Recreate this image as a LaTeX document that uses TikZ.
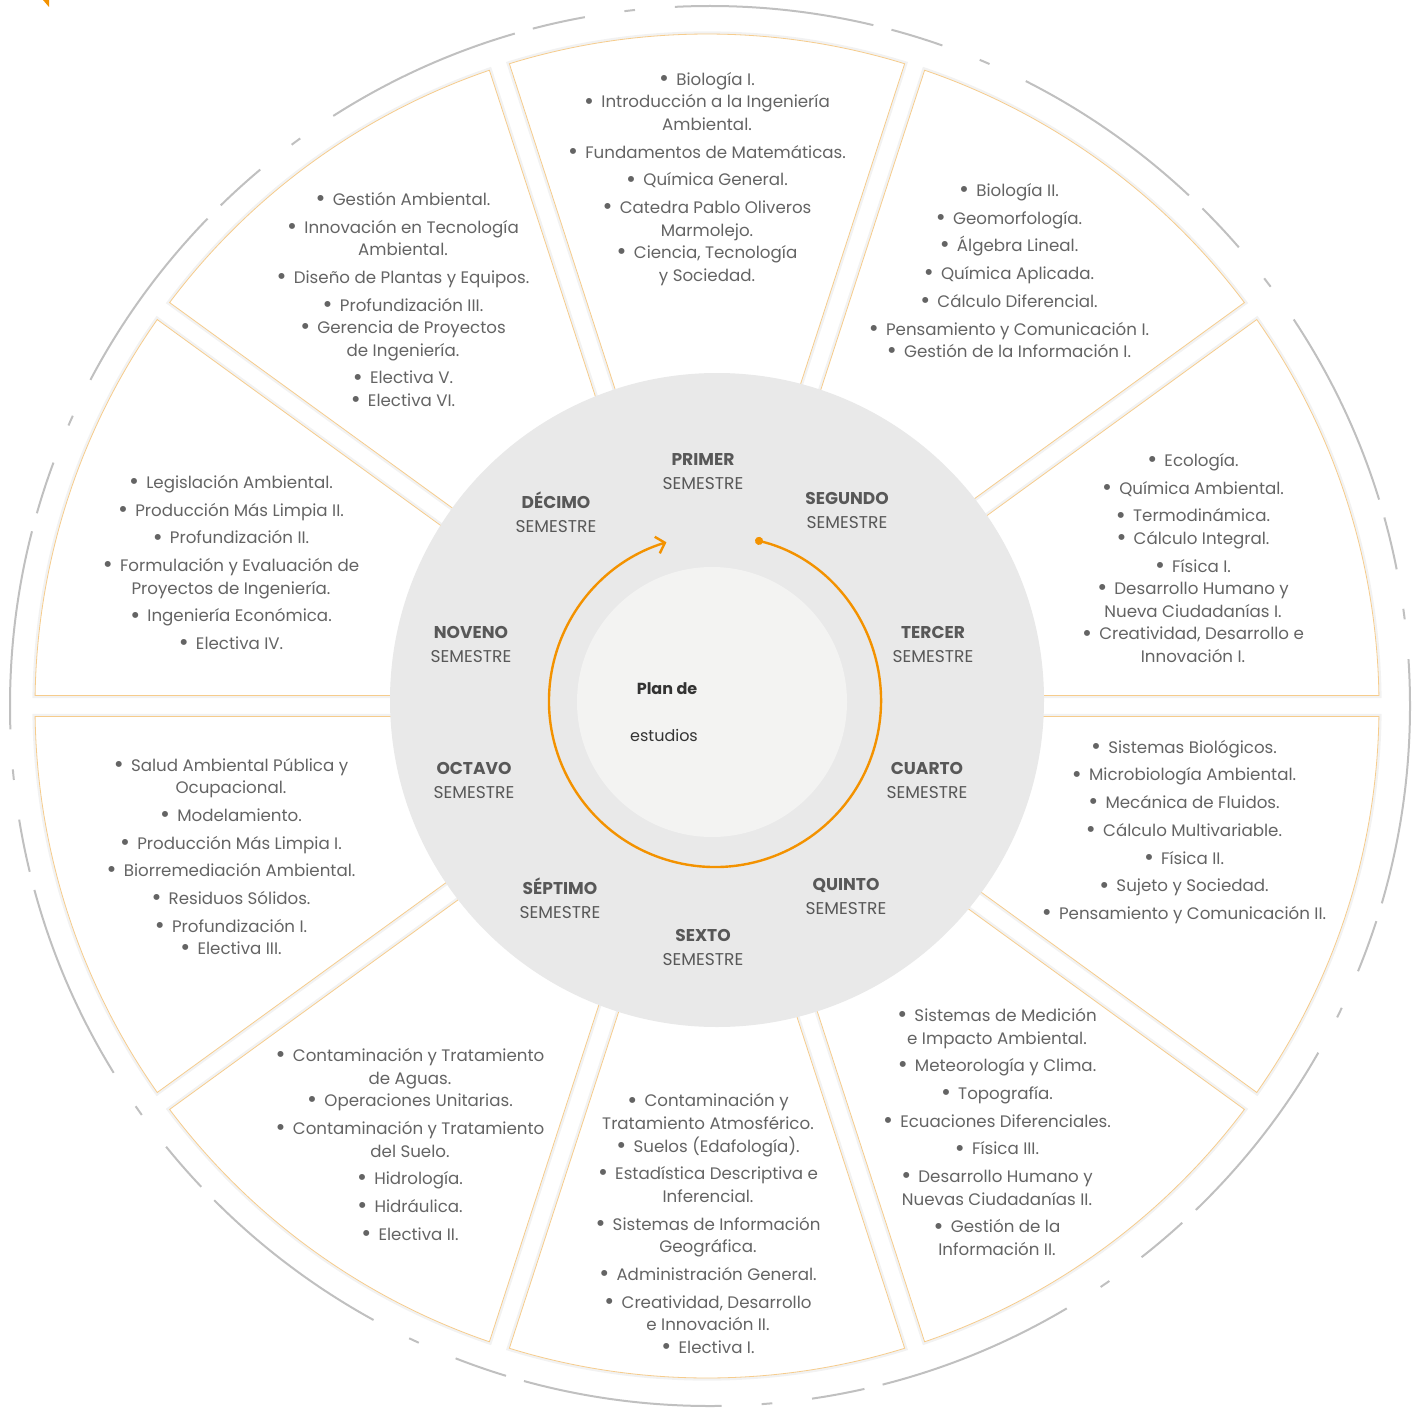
\documentclass[tikz,border=0pt]{standalone}
\usepackage{fontspec}
\setmainfont{Poppins}
\usetikzlibrary{arrows.meta}

\definecolor{discgray}{RGB}{233,233,233}
\definecolor{coregray}{RGB}{243,243,242}
\definecolor{cycleorange}{RGB}{243,146,0}
\definecolor{panelline}{RGB}{246,204,140}
\definecolor{ringgray}{RGB}{192,192,192}
\definecolor{coursegray}{RGB}{100,100,100}
\definecolor{labelgray}{RGB}{88,88,88}

\newcommand{\itm}{\raisebox{-0.07em}{\scalebox{1.45}{\textbullet}}\ \,}
\newcommand{\itemgap}{3.9pt}

\tikzset{
  panel/.style={fill=white, draw=panelline, line width=0.6pt,
    preaction={draw=black!5, line width=4pt}},
  ring/.style={draw=ringgray, line width=1.5pt,
    dash pattern=on 150pt off 14pt on 40pt off 30pt on 8pt off 30pt},
  course/.style={align=center, inner sep=0pt, text=coursegray,
    font=\fontsize{12.5}{16.9}\selectfont},
  semester/.style={align=center, inner sep=0pt, text=labelgray,
    font=\fontsize{12.8}{18}\selectfont},
  core/.style={inner sep=0pt, text=black!80, font=\fontsize{12}{14}\selectfont},
  cyclearrow/.style={draw=cycleorange, line width=1.8pt,
    {Circle[length=6pt]}-{Straight Barb[length=6pt, width=13pt]}},
}

\begin{document}
\begin{tikzpicture}[x=0.75pt, y=-0.75pt]
\useasboundingbox (0,0) rectangle (1424,1409);

% -------------------------
% Outer dashed ring
% -------------------------
\draw[ring] (710,706) circle[radius=700];
\fill[cycleorange] (43,0) -- (49,0) -- (49,7) -- cycle;

% -------------------------
% Panels, one per semester
% -------------------------
\foreach \k in {0,...,9}{
  \path[panel, shift={(707,706)}, rotate=18+36*\k]
    (145.9,-36.36) -- (-17.105:672)
    arc[start angle=-17.105, end angle=17.105, radius=672]
    -- (145.9,36.36) -- cycle;
}

% -------------------------
% Disc and centre
% -------------------------
\fill[discgray] (717,700) circle[radius=327];
\fill[coregray] (712,702) circle[radius=135];
\draw[cyclearrow, shift={(715,701)}] (-76:166)
  arc[start angle=-76, end angle=253, radius=166];

\node[core] (plan) at (667,689) {\textbf{Plan de}};
\node[core] (estudios) at (664,735) {estudios};

% -------------------------
% Semester names
% -------------------------
\node[semester] (primer)  at (703,472) {\textbf{PRIMER}\\SEMESTRE};
\node[semester] (segundo) at (847,510) {\textbf{SEGUNDO}\\SEMESTRE};
\node[semester] (tercer)  at (933,644) {\textbf{TERCER}\\SEMESTRE};
\node[semester] (cuarto)  at (927,780) {\textbf{CUARTO}\\SEMESTRE};
\node[semester] (quinto)  at (846,896) {\textbf{QUINTO}\\SEMESTRE};
\node[semester] (sexto)   at (703,947) {\textbf{SEXTO}\\SEMESTRE};
\node[semester] (septimo) at (560,898) {\textbf{SÉPTIMO}\\SEMESTRE};
\node[semester] (octavo)  at (474,780) {\textbf{OCTAVO}\\SEMESTRE};
\node[semester] (noveno)  at (471,644) {\textbf{NOVENO}\\SEMESTRE};
\node[semester] (decimo)  at (556,512) {\textbf{DÉCIMO}\\SEMESTRE};

% -------------------------
% Courses of each semester
% -------------------------
\node[course] (primerList) at (707,179) {\itm Biología I.\\
  \itm Introducción a la Ingeniería\\ Ambiental.\\[\itemgap]
  \itm Fundamentos de Matemáticas.\\[\itemgap]
  \itm Química General.\\[\itemgap]
  \itm Catedra Pablo Oliveros\\ Marmolejo.\\
  \itm Ciencia, Tecnología\\ y Sociedad.};

\node[course] (segundoList) at (1009,271) {\itm Biología II.\\[\itemgap]
  \itm Geomorfología.\\[\itemgap]
  \itm Álgebra Lineal.\\[\itemgap]
  \itm Química Aplicada.\\[\itemgap]
  \itm Cálculo Diferencial.\\[\itemgap]
  \itm Pensamiento y Comunicación I.\\
  \itm Gestión de la Información I.};

\node[course] (tercerList) at (1193,558) {\itm Ecología.\\[\itemgap]
  \itm Química Ambiental.\\[\itemgap]
  \itm Termodinámica.\\
  \itm Cálculo Integral.\\[\itemgap]
  \itm Física I.\\
  \itm Desarrollo Humano y\\ Nueva Ciudadanías I.\\
  \itm Creatividad, Desarrollo e\\ Innovación I.};

\node[course] (cuartoList) at (1184,832) {\itm Sistemas Biológicos.\\[\itemgap]
  \itm Microbiología Ambiental.\\[\itemgap]
  \itm Mecánica de Fluidos.\\[\itemgap]
  \itm Cálculo Multivariable.\\[\itemgap]
  \itm Física II.\\[\itemgap]
  \itm Sujeto y Sociedad.\\[\itemgap]
  \itm Pensamiento y Comunicación II.};

\node[course] (quintoList) at (997,1132) {\itm Sistemas de Medición\\ e Impacto Ambiental.\\[\itemgap]
  \itm Meteorología y Clima.\\[\itemgap]
  \itm Topografía.\\[\itemgap]
  \itm Ecuaciones Diferenciales.\\[\itemgap]
  \itm Física III.\\[\itemgap]
  \itm Desarrollo Humano y\\ Nuevas Ciudadanías II.\\[\itemgap]
  \itm Gestión de la\\ Información II.};

\node[course] (sextoList) at (708,1224) {\itm Contaminación y\\ Tratamiento Atmosférico.\\
  \itm Suelos (Edafología).\\[\itemgap]
  \itm Estadística Descriptiva e\\ Inferencial.\\[\itemgap]
  \itm Sistemas de Información\\ Geográfica.\\[\itemgap]
  \itm Administración General.\\[\itemgap]
  \itm Creatividad, Desarrollo\\ e Innovación II.\\
  \itm Electiva I.};

\node[course] (septimoList) at (410,1145) {\itm Contaminación y Tratamiento\\ de Aguas.\\
  \itm Operaciones Unitarias.\\[\itemgap]
  \itm Contaminación y Tratamiento\\ del Suelo.\\[\itemgap]
  \itm Hidrología.\\[\itemgap]
  \itm Hidráulica.\\[\itemgap]
  \itm Electiva II.};

\node[course] (octavoList) at (231,857) {\itm Salud Ambiental Pública y\\ Ocupacional.\\[\itemgap]
  \itm Modelamiento.\\[\itemgap]
  \itm Producción Más Limpia I.\\[\itemgap]
  \itm Biorremediación Ambiental.\\[\itemgap]
  \itm Residuos Sólidos.\\[\itemgap]
  \itm Profundización I.\\
  \itm Electiva III.};

\node[course] (novenoList) at (231,563) {\itm Legislación Ambiental.\\[\itemgap]
  \itm Producción Más Limpia II.\\[\itemgap]
  \itm Profundización II.\\[\itemgap]
  \itm Formulación y Evaluación de\\ Proyectos de Ingeniería.\\[\itemgap]
  \itm Ingeniería Económica.\\[\itemgap]
  \itm Electiva IV.};

\node[course] (decimoList) at (403,300) {\itm Gestión Ambiental.\\[\itemgap]
  \itm Innovación en Tecnología\\ Ambiental.\\[\itemgap]
  \itm Diseño de Plantas y Equipos.\\[\itemgap]
  \itm Profundización III.\\
  \itm Gerencia de Proyectos\\ de Ingeniería.\\[\itemgap]
  \itm Electiva V.\\
  \itm Electiva VI.};

\end{tikzpicture}
\end{document}
